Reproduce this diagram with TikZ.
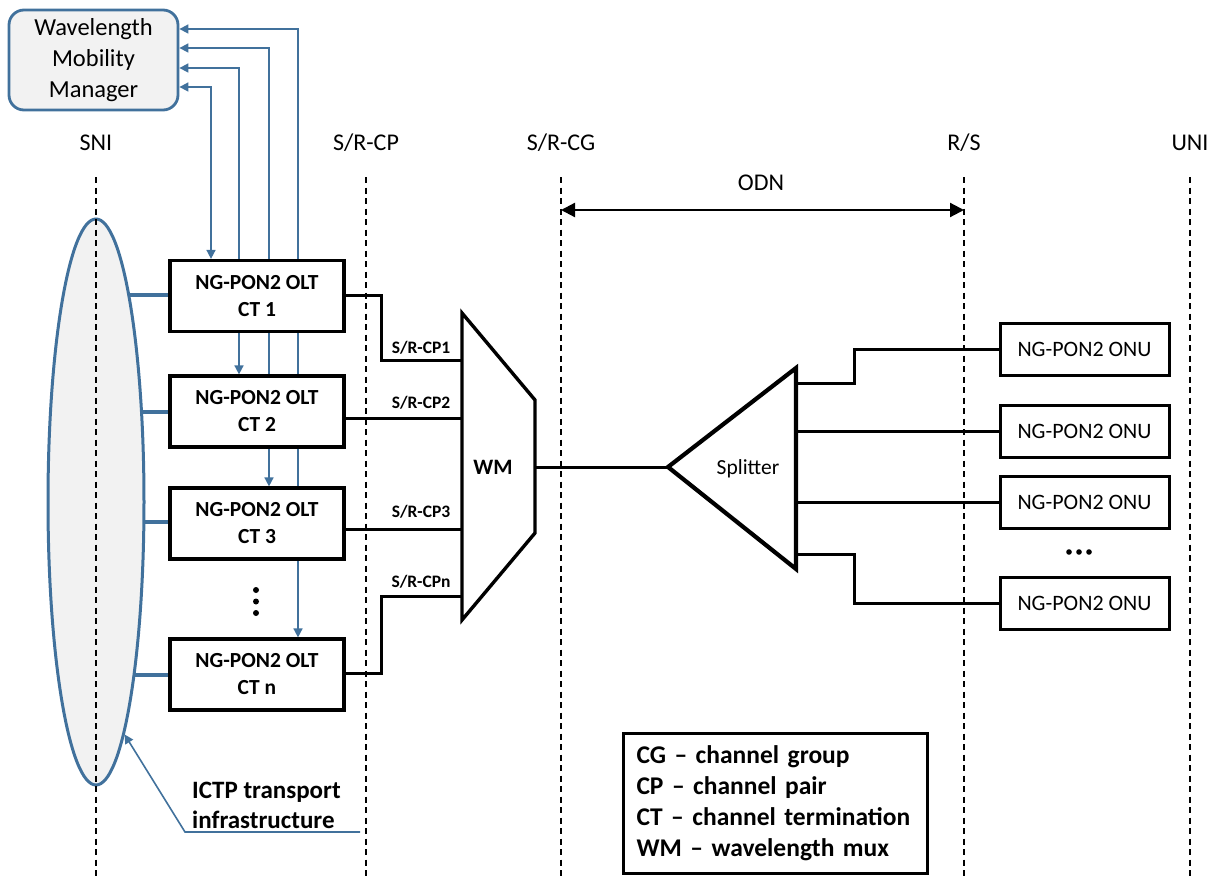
\documentclass[tikz,border=0pt]{standalone}
\usepackage{fontspec}
\setmainfont{Carlito}
\usetikzlibrary{arrows.meta,backgrounds,shapes.geometric,calc}
\definecolor{bl}{RGB}{65,113,156}
\definecolor{ellfill}{RGB}{242,242,242}
\tikzset{
  ctbox/.style={draw,line width=3.2pt,fill=white,minimum width=174pt,minimum height=71pt,inner sep=0pt,align=center,font=\fontsize{21.5}{27}\selectfont\bfseries},
  onubox/.style={draw,line width=3pt,fill=white,minimum width=169pt,minimum height=52pt,inner sep=0pt,font=\fontsize{22}{26}\selectfont},
  toplabel/.style={font=\fontsize{24}{28}\selectfont,inner sep=0pt},
  cplabel/.style={font=\fontsize{17.5}{20}\selectfont\bfseries,inner sep=0pt},
  conn/.style={line width=3pt},
  dashline/.style={line width=1.5pt,dash pattern=on 6pt off 4.5pt},
  barrow/.style={draw=bl,line width=1.6pt,>={Triangle[length=9pt,width=9pt]}},
  bthick/.style={draw=bl,line width=4pt},
  odnarrow/.style={line width=2.2pt,>={Triangle[length=14pt,width=14pt]}},
}
\begin{document}
\begin{tikzpicture}[x=1pt,y=-1pt]
\useasboundingbox (0,0) rectangle (1218,880);

% ---- Wavelength Mobility Manager
\node[draw=bl,line width=2.8pt,fill=ellfill,rounded corners=15pt,minimum width=169pt,minimum height=100pt,inner sep=0pt,align=center,font=\fontsize{24.5}{31}\selectfont] (wmm) at (93.5,60) {Wavelength\\Mobility\\Manager};

% ---- top labels
\node[toplabel] (lsni) at (96,143) {SNI};
\node[toplabel] (lcp) at (366,143) {S/R-CP};
\node[toplabel] (lcg) at (561,143) {S/R-CG};
\node[toplabel] (lrs) at (964,143) {R/S};
\node[toplabel] (luni) at (1190,143) {UNI};
\node[toplabel] (lodn) at (761,183) {ODN};

% ---- ICTP ellipse
\node[ellipse,draw=bl,line width=3pt,fill=ellfill,minimum width=96pt,minimum height=566pt,inner sep=0pt] (ictp) at (96,502) {};

% ---- OLT boxes
\node[ctbox] (ct1) at (257,296) {NG-PON2 OLT\\CT 1};
\node[ctbox] (ct2) at (257,411.5) {NG-PON2 OLT\\CT 2};
\node[ctbox] (ct3) at (257,523.5) {NG-PON2 OLT\\CT 3};
\node[ctbox] (ctn) at (257,674.5) {NG-PON2 OLT\\CT n};

% vertical dots
\fill (256,590) circle (3pt);
\fill (256,601.5) circle (3pt);
\fill (256,613) circle (3pt);

% ---- dashed reference lines
\draw[dashline] (96,177) -- (96,880);
\draw[dashline] (366,177) -- (366,880);
\draw[dashline] (561,177) -- (561,880);
\draw[dashline] (964,177) -- (964,880);
\draw[dashline] (1190,177) -- (1190,880);
\coordinate (cgtop) at (561,210);
\coordinate (rstop) at (964,210);
\draw[odnarrow,<->] (cgtop) -- (rstop);

% ---- WM trapezoid
\coordinate (wmtl) at (462,313);
\coordinate (wmbl) at (462,620);
\coordinate (wmtr) at (535,400);
\coordinate (wmbr) at (535,533);
\coordinate (wmout) at (535,467);
\draw[line width=3.4pt,line join=miter,fill=white] (wmtl) -- (wmtr) -- (wmbr) -- (wmbl) -- cycle;
\node[font=\fontsize{22}{26}\selectfont\bfseries] (wmlbl) at (493,467) {WM};

% ---- splitter
\coordinate (spa) at (668,467);
\coordinate (spt) at (796,368);
\coordinate (spb) at (796,569);
\draw[line width=4.2pt,line join=miter] (spa) -- (spt) -- (spb) -- cycle;
\node[font=\fontsize{21.5}{26}\selectfont] (splbl) at (748,469) {Splitter};

% ---- ONU boxes
\node[onubox] (onu1) at (1084.5,349) {NG-PON2 ONU};
\node[onubox] (onu2) at (1084.5,431) {NG-PON2 ONU};
\node[onubox] (onu3) at (1084.5,502.5) {NG-PON2 ONU};
\node[onubox] (onu4) at (1084.5,603) {NG-PON2 ONU};
\fill (1069,552) circle (2.8pt);
\fill (1079,552) circle (2.8pt);
\fill (1089,552) circle (2.8pt);

% ---- connectors OLT -> WM
\draw[conn] (ct1.east |- 0,295) -| (381,360) -- (wmtl |- 0,360);
\draw[conn] (ct2.east |- 0,418) -- (wmtl |- 0,418);
\draw[conn] (ct3.east |- 0,529) -- (wmtl |- 0,529);
\draw[conn] (ctn.east |- 0,673) -| (381,596) -- (wmtl |- 0,596);
\node[cplabel] (cp1) at (421,347.5) {S/R-CP1};
\node[cplabel] (cp2) at (421,403) {S/R-CP2};
\node[cplabel] (cp3) at (421,512) {S/R-CP3};
\node[cplabel] (cpn) at (421,582) {S/R-CPn};

% ---- WM -> splitter -> ONUs
\draw[conn] (wmout) -- (spa);
\draw[conn] (spt |- 0,383) -| (854,349) -- (onu1.west);
\draw[conn] (spt |- onu2.west) -- (onu2.west);
\draw[conn] (spt |- onu3.west) -- (onu3.west);
\draw[conn] (spt |- 0,554) -| (854,603) -- (onu4.west);

% ---- ICTP label and leader
\node[anchor=north west,align=left,inner sep=0pt,font=\fontsize{25}{30}\selectfont\bfseries] (ictplbl) at (192,782) {ICTP transport\\infrastructure};
\coordinate (ldend) at (360,832);
\coordinate (ldbend) at (185,832);
\draw[barrow,->] (ldend) -- (ldbend) -- (ictp.-83.3);

% ---- legend
\node[draw,line width=3pt,text width=278pt,inner xsep=13pt,inner ysep=6pt,minimum height=140pt,align=left,font=\fontsize{25.5}{31}\selectfont\bfseries] (legend) at (775.5,803) {CG – channel group\\CP – channel pair\\CT – channel termination\\WM – wavelength mux};

% ---- background connectors
\begin{scope}[on background layer]
  \draw[bthick] (ictp.center |- 0,295) -- (ct1.west |- 0,295);
  \draw[bthick] (ictp.center |- 0,412) -- (ct2.west |- 0,412);
  \draw[bthick] (ictp.center |- 0,522) -- (ct3.west |- 0,522);
  \draw[bthick] (ictp.center |- 0,675) -- (ctn.west |- 0,675);
  \draw[barrow,<->] (wmm.east |- 0,87) -| (211,0 |- ct1.north);
  \draw[barrow,<->] (wmm.east |- 0,68) -| (239,0 |- ct2.north);
  \draw[barrow,<->] (wmm.east |- 0,48) -| (269,0 |- ct3.north);
  \draw[barrow,<->] (wmm.east |- 0,29) -| (298,0 |- ctn.north);
\end{scope}
\end{tikzpicture}
\end{document}
